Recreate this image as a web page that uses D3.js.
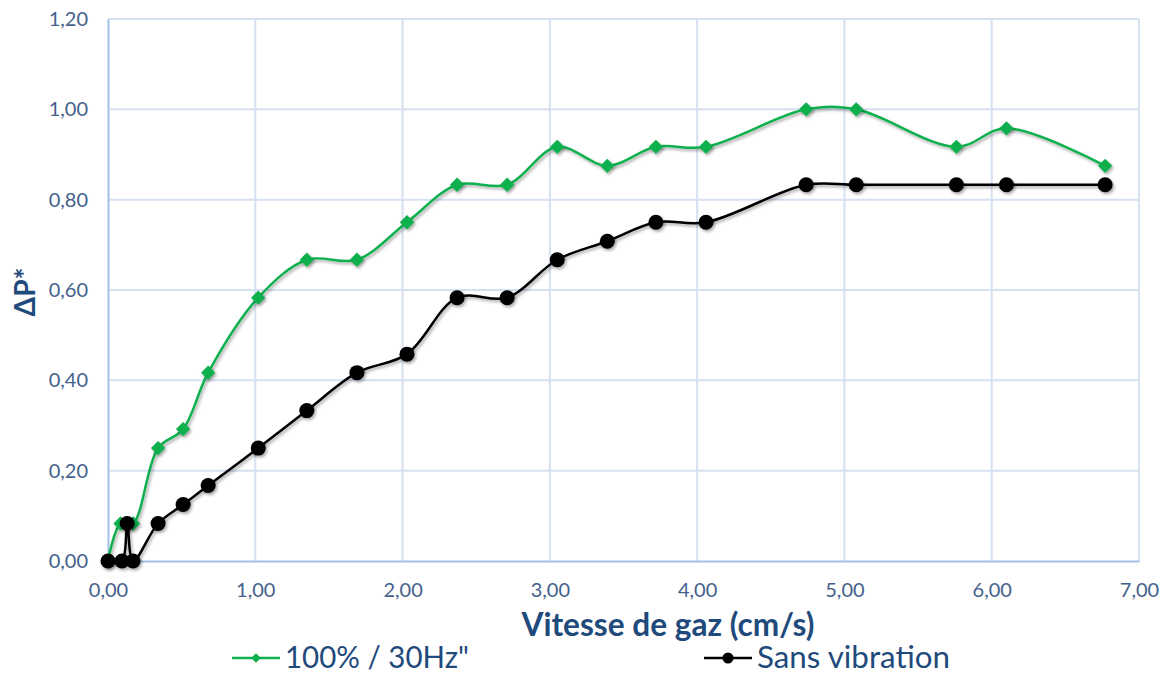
<!DOCTYPE html>
<html>
<head>
<meta charset="utf-8">
<script src="https://cdn.jsdelivr.net/npm/d3@7"></script>
<style>
  html, body { margin: 0; padding: 0; background: #fff; }
  svg { display: block; }
</style>
</head>
<body>
<svg id="chart" width="1169" height="675"></svg>
<script>
// Gas velocity (cm/s) and normalised pressure drop ΔP*
const vibX = [0, 0.085, 0.17, 0.34, 0.51, 0.68, 1.02, 1.35, 1.69, 2.03, 2.37, 2.71, 3.05, 3.39, 3.72, 4.06, 4.74, 5.08, 5.76, 6.10, 6.77];
const vibY = [0, 0.083, 0.083, 0.25, 0.292, 0.417, 0.583, 0.667, 0.667, 0.75, 0.833, 0.833, 0.917, 0.875, 0.917, 0.917, 1.0, 1.0, 0.917, 0.958, 0.875];

const noVibX = [0, 0.095, 0.13, 0.17, 0.34, 0.51, 0.68, 1.02, 1.35, 1.69, 2.03, 2.37, 2.71, 3.05, 3.39, 3.72, 4.06, 4.74, 5.08, 5.76, 6.10, 6.77];
const noVibY = [0, 0, 0.083, 0, 0.083, 0.125, 0.167, 0.25, 0.333, 0.417, 0.458, 0.583, 0.583, 0.667, 0.708, 0.75, 0.75, 0.833, 0.833, 0.833, 0.833, 0.833];

const xTicks = [0, 1, 2, 3, 4, 5, 6, 7];
const yTicks = [0, 0.2, 0.4, 0.6, 0.8, 1.0, 1.2];

const seriesNames = ['100% / 30Hz"', "Sans vibration"];

(function () {
const svg = d3.select("#chart");
const plotLeft = 108, plotRight = 1139, plotTop = 19, plotBottom = 561;

const x = d3.scaleLinear().domain([0, 7]).range([plotLeft, plotRight]);
const y = d3.scaleLinear().domain([0, 1.2]).range([plotBottom, plotTop]);

const fmt = v => v.toFixed(2).replace(".", ",");
const font = "Lato, 'Open Sans', sans-serif";
const tickColor = "#44618c";
const titleColor = "#1f4a7c";

// soft drop shadow for lines and markers
const defs = svg.append("defs");
const f = defs.append("filter").attr("id", "shadow")
  .attr("x", "-50%").attr("y", "-50%").attr("width", "200%").attr("height", "200%");
f.append("feDropShadow").attr("dx", 1.5).attr("dy", 2).attr("stdDeviation", 1.4)
  .attr("flood-color", "#000").attr("flood-opacity", 0.35);

// gridlines
const grid = svg.append("g");
grid.selectAll("line.gy").data(yTicks.filter(d => d > 0)).join("line")
  .attr("x1", plotLeft).attr("x2", plotRight)
  .attr("y1", d => y(d)).attr("y2", d => y(d))
  .attr("stroke", "#d5e0f1").attr("stroke-width", 2);
grid.selectAll("line.gx").data(xTicks.filter(d => d > 0)).join("line")
  .attr("y1", plotTop).attr("y2", plotBottom)
  .attr("x1", d => x(d)).attr("x2", d => x(d))
  .attr("stroke", "#d5e0f1").attr("stroke-width", 2);

// axes
const xAxis = svg.append("g").attr("transform", `translate(0,${plotBottom})`)
  .call(d3.axisBottom(x).tickValues(xTicks).tickFormat(fmt).tickSize(0).tickPadding(22));
const yAxis = svg.append("g").attr("transform", `translate(${plotLeft},0)`)
  .call(d3.axisLeft(y).tickValues(yTicks).tickFormat(fmt).tickSize(0).tickPadding(20));
[xAxis, yAxis].forEach(a => {
  a.select(".domain").attr("stroke", "#a2c0e8").attr("stroke-width", 2);
  a.selectAll("text").attr("fill", tickColor).style("font-family", font).style("font-size", "20px");
});

// series
const line = d3.line().x(d => x(d[0])).y(d => y(d[1])).curve(d3.curveCatmullRom.alpha(0.5));
const vib = vibX.map((v, i) => [v, vibY[i]]);
const noVib = noVibX.map((v, i) => [v, noVibY[i]]);

const green = "#10b04e";
const diamond = d3.symbol().type(d3.symbolDiamond2).size(130);

svg.append("path").datum(vib).attr("d", line)
  .attr("fill", "none").attr("stroke", green).attr("stroke-width", 2.5).attr("filter", "url(#shadow)");
svg.append("path").datum(noVib).attr("d", line)
  .attr("fill", "none").attr("stroke", "#000").attr("stroke-width", 2.5).attr("filter", "url(#shadow)");

svg.append("g").attr("filter", "url(#shadow)").selectAll("path").data(vib).join("path")
  .attr("d", diamond)
  .attr("transform", d => `translate(${x(d[0])},${y(d[1])})`)
  .attr("fill", green);
svg.append("g").attr("filter", "url(#shadow)").selectAll("circle").data(noVib).join("circle")
  .attr("cx", d => x(d[0])).attr("cy", d => y(d[1])).attr("r", 7.5)
  .attr("fill", "#000");

// axis titles
svg.append("text").attr("x", 668).attr("y", 636)
  .attr("text-anchor", "middle").attr("fill", titleColor)
  .style("font-family", font).style("font-weight", "bold").style("font-size", "32px")
  .attr("textLength", 293).attr("lengthAdjust", "spacingAndGlyphs")
  .text("Vitesse de gaz (cm/s)");
svg.append("text").attr("transform", "translate(35,292) rotate(-90)")
  .attr("text-anchor", "middle").attr("fill", titleColor)
  .style("font-family", font).style("font-weight", "bold").style("font-size", "28px")
  .text("ΔP*");

// legend
const legendDiamond = d3.symbol().type(d3.symbolDiamond2).size(60);
const legend = svg.append("g");
const lg1 = legend.append("g").attr("transform", "translate(232,658)");
lg1.append("line").attr("x1", 0).attr("x2", 48).attr("stroke", green).attr("stroke-width", 2.5);
lg1.append("path").attr("d", legendDiamond).attr("transform", "translate(24,0)").attr("fill", green);
lg1.append("text").attr("x", 53).attr("y", 10).attr("fill", titleColor)
  .style("font-family", font).style("font-size", "31px")
  .attr("textLength", 184).attr("lengthAdjust", "spacingAndGlyphs")
  .text(seriesNames[0]);

const lg2 = legend.append("g").attr("transform", "translate(704,658)");
lg2.append("line").attr("x1", 0).attr("x2", 48).attr("stroke", "#000").attr("stroke-width", 2.5);
lg2.append("circle").attr("cx", 24).attr("r", 5.5).attr("fill", "#000");
lg2.append("text").attr("x", 53).attr("y", 10).attr("fill", titleColor)
  .style("font-family", font).style("font-size", "31px")
  .attr("textLength", 193).attr("lengthAdjust", "spacingAndGlyphs")
  .text(seriesNames[1]);
})();
</script>
</body>
</html>
